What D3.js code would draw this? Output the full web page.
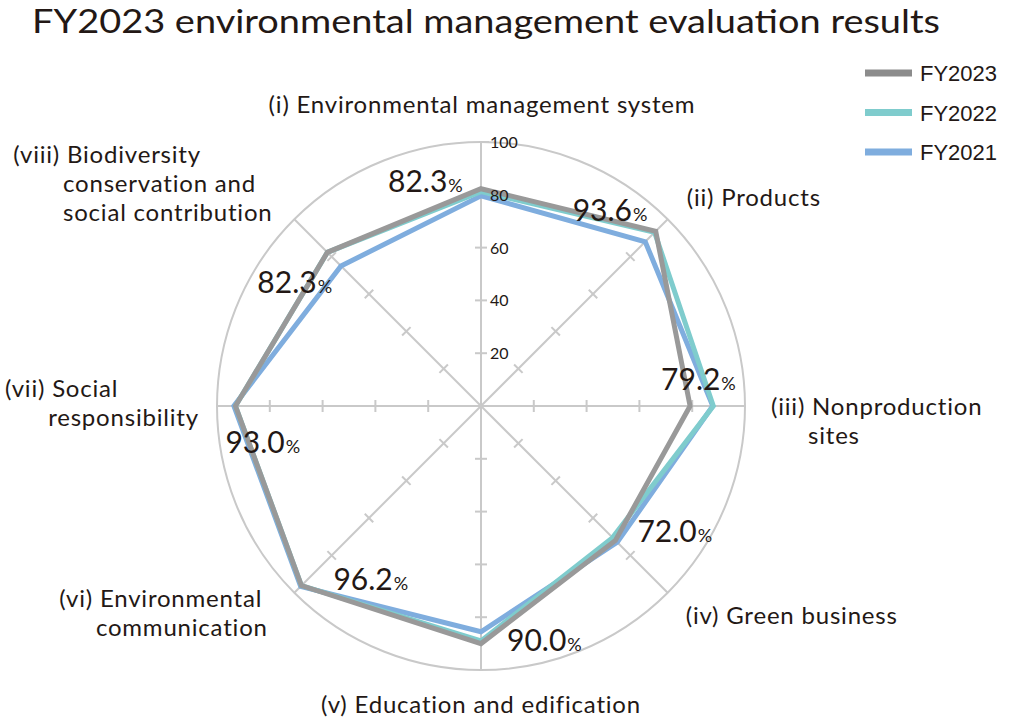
<!DOCTYPE html>
<html>
<head>
<meta charset="utf-8">
<script src="https://d3js.org/d3.v7.min.js"></script>
<style>
  body { margin: 0; background: #fff; }
  svg text { font-family: Lato, "Noto Sans", sans-serif; fill: #231815; }
  svg text.cat { letter-spacing: 0.8px; }
  .legend text { font-family: "Liberation Sans", Arial, sans-serif; }
</style>
</head>
<body>
<div id="chart"></div>
<script>
// data
var categories = ["(i)|Environmental management system", "(ii)|Products", "(iii)|Nonproduction|sites",
  "(iv)|Green business", "(v)|Education and edification", "(vi)|Environmental|communication",
  "(vii)|Social|responsibility", "(viii)|Biodiversity|conservation and|social contribution"];
var seriesNames = ["FY2023", "FY2022", "FY2021"];
var fy2023 = [82.3, 93.6, 79.2, 72.0, 90.0, 96.2, 93.0, 82.3];
var fy2022 = [81.2, 93.0, 88.0, 70.5, 89.0, 96.2, 93.0, 82.3];
var fy2021 = [79.6, 88.0, 87.8, 73.0, 85.5, 96.6, 93.6, 75.0];
var tickValues = [20, 40, 60, 80, 100];

// layout
var W = 1012, H = 720;
var cx = 481, cy = 406, R = 264;
var colors = {"FY2023": "#999999", "FY2022": "#7fcccd", "FY2021": "#7fadde"};
var legendColors = {"FY2023": "#8c8c8c", "FY2022": "#7fcccd", "FY2021": "#7fadde"};
// offsets of category labels from the 100% point of each axis
var catPos = [
  {dx: 1, dy: -29, anchor: "middle"}, {dx: 19, dy: -13}, {dx: 26, dy: 9}, {dx: 18, dy: 31},
  {dx: 0, dy: 43, anchor: "middle"}, {dx: -235, dy: 14}, {dx: -212, dy: -9}, {dx: -281, dy: -56}
];
// offsets of FY2023 value labels from their vertex
var valPos = [
  {dx: -93, dy: 3}, {dx: -83, dy: -10}, {dx: -29, dy: -16}, {dx: 22, dy: 2},
  {dx: 26, dy: 7}, {dx: 32, dy: 4}, {dx: -10, dy: 47}, {dx: -70, dy: 41}
];

var svg = d3.select("#chart").append("svg")
  .attr("width", W).attr("height", H);

svg.append("text")
  .attr("x", 32).attr("y", 33)
  .attr("font-size", 33)
  .attr("textLength", 908).attr("lengthAdjust", "spacingAndGlyphs")
  .text("FY2023 environmental management evaluation results");

var r = d3.scaleLinear().domain([0, 100]).range([0, R]);
var angle = d3.scaleLinear().domain([0, categories.length]).range([0, 2 * Math.PI]);
function pt(i, v) {
  var a = angle(i);
  return [cx + r(v) * Math.sin(a), cy - r(v) * Math.cos(a)];
}

var g = svg.append("g");

// outer circle
g.append("circle").attr("cx", cx).attr("cy", cy).attr("r", r(100))
  .attr("fill", "none").attr("stroke", "#c9c9c9").attr("stroke-width", 2);

// axes
categories.forEach(function(c, i) {
  var p = pt(i, 100);
  g.append("line").attr("x1", cx).attr("y1", cy).attr("x2", p[0]).attr("y2", p[1])
    .attr("stroke", "#c9c9c9").attr("stroke-width", 2);
  var a = angle(i);
  var nx = Math.cos(a) * 6, ny = Math.sin(a) * 6;
  tickValues.filter(function(t) { return t < 100; }).forEach(function(t) {
    var q = pt(i, t);
    g.append("line").attr("x1", q[0] - nx).attr("y1", q[1] - ny)
      .attr("x2", q[0] + nx).attr("y2", q[1] + ny)
      .attr("stroke", "#c9c9c9").attr("stroke-width", 2);
  });
});
g.append("line").attr("x1", cx).attr("x2", cx + 8).attr("y1", cy - r(100)).attr("y2", cy - r(100))
  .attr("stroke", "#c9c9c9").attr("stroke-width", 2);

// series
var radial = d3.lineRadial()
  .angle(function(d, i) { return angle(i); })
  .radius(function(d) { return r(d); })
  .curve(d3.curveLinearClosed);

var seriesData = {"FY2023": fy2023, "FY2022": fy2022, "FY2021": fy2021};
["FY2021", "FY2022", "FY2023"].forEach(function(name) {
  g.append("path")
    .attr("transform", "translate(" + cx + "," + cy + ")")
    .attr("d", radial(seriesData[name]))
    .attr("fill", "none")
    .attr("stroke", colors[name])
    .attr("stroke-width", 5)
    .attr("stroke-linejoin", "miter");
});

// tick labels
tickValues.forEach(function(t) {
  g.append("text").attr("x", cx + 9).attr("y", cy - r(t) + 6)
    .attr("font-size", 16).text(t);
});

// value labels
fy2023.forEach(function(v, i) {
  var p = pt(i, v);
  var t = g.append("text").attr("x", p[0] + valPos[i].dx).attr("y", p[1] + valPos[i].dy)
    .attr("font-size", 30).text(v.toFixed(1));
  t.append("tspan").attr("font-size", 18).attr("dx", 1).text("%");
});

// category labels
categories.forEach(function(c, i) {
  var parts = c.split("|");
  var p = pt(i, 100);
  var x0 = p[0] + catPos[i].dx, y0 = p[1] + catPos[i].dy;
  var t = g.append("text").attr("class", "cat").attr("x", x0).attr("y", y0).attr("font-size", 24)
    .attr("text-anchor", catPos[i].anchor || "start");
  t.append("tspan").text(parts[0] + " ");
  t.append("tspan").text(parts[1]);
  if (parts.length > 2) {
    var indent = t.node().getSubStringLength(0, parts[0].length + 1) - 4;
    parts.slice(2).forEach(function(line, k) {
      g.append("text").attr("class", "cat").attr("x", x0 + indent).attr("y", y0 + 29 * (k + 1))
        .attr("font-size", 24).text(line);
    });
  }
});

// legend
var legend = svg.append("g").attr("class", "legend");
seriesNames.forEach(function(name, i) {
  var y = 73 + i * 39.5;
  legend.append("line").attr("x1", 865).attr("x2", 912).attr("y1", y).attr("y2", y)
    .attr("stroke", legendColors[name]).attr("stroke-width", 7);
  legend.append("text").attr("x", 920).attr("y", y + 8).attr("font-size", 22).text(name);
});
</script>
</body>
</html>
